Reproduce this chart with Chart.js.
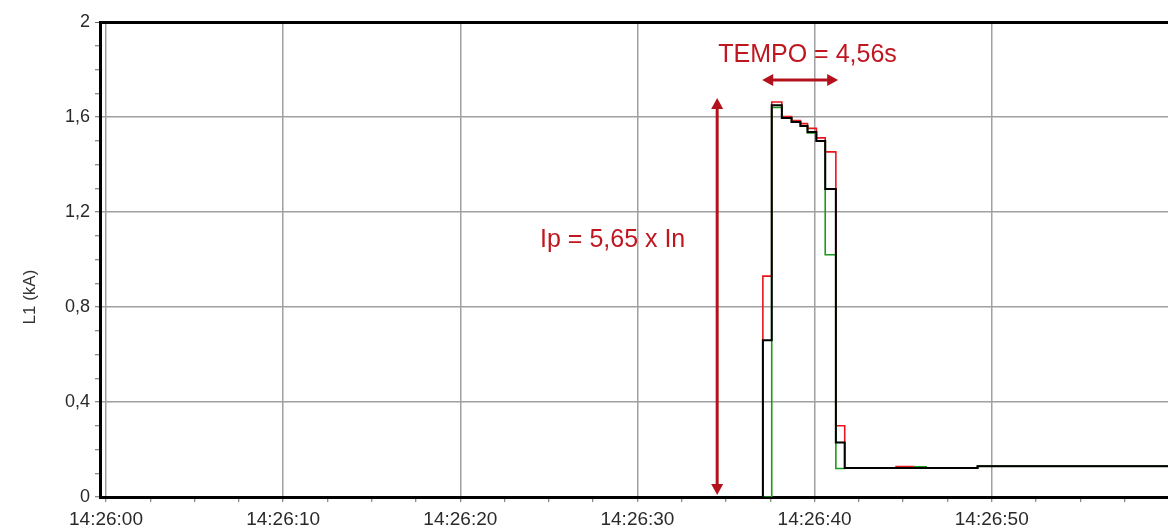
<!DOCTYPE html>
<html>
<head>
<meta charset="utf-8">
<script src="https://cdn.jsdelivr.net/npm/chart.js@4.4.1/dist/chart.umd.min.js"></script>
<style>
  html, body { margin: 0; padding: 0; background: #fff; }
  #wrap { width: 1168px; height: 530px; position: relative; }
</style>
</head>
<body>
<div id="wrap"><canvas id="l1Chart"></canvas></div>
<script>
'use strict'
// seconds after 14:26:00, step changes
var times = [-0.34, 37.08, 37.58, 38.15, 38.7, 39.2, 39.6, 40.1, 40.6, 41.2, 41.7, 44.6, 45.6, 46.3, 49.2, 59.95];
var blackL1 = [0, 0.66, 1.65, 1.596, 1.579, 1.562, 1.537, 1.499, 1.297, 0.23, 0.122, 0.122, 0.122, 0.122, 0.13, 0.13];
var redL1   = [0, 0.93, 1.663, 1.602, 1.585, 1.572, 1.552, 1.512, 1.453, 0.30, 0.122, 0.128, 0.122, 0.122, 0.13, 0.13];
var greenL1 = [0, 0, 1.64, 1.596, 1.579, 1.562, 1.533, 1.499, 1.02, 0.12, 0.122, 0.122, 0.127, 0.122, 0.13, 0.13];

var xTickLabels = ['14:26:00', '14:26:10', '14:26:20', '14:26:30', '14:26:40', '14:26:50'];
var yTickLabels = ['0', '0,4', '0,8', '1,2', '1,6', '2'];

// annotations
var tempoText = 'TEMPO = 4,56s';
var ipText = 'Ip = 5,65 x In';
var yTitle = 'L1 (kA)';

var font = "'Liberation Sans', Arial, sans-serif";
var annColor = '#b3121c';

function points(values) {
    return times.map(function(t, i) { return { x: t, y: values[i] }; });
}
function isMajorX(v) { return Math.abs(v / 10 - Math.round(v / 10)) < 1e-6 && v >= 0; }
function isMinorX(v) { return Math.abs(v / 2.5 - Math.round(v / 2.5)) < 1e-6; }
function isMajorY(v) { return Math.abs(v / 0.4 - Math.round(v / 0.4)) < 1e-6; }

function arrow(ctx, x1, y1, x2, y2) {
    var ang = Math.atan2(y2 - y1, x2 - x1), len = 11, half = 6;
    ctx.beginPath();
    ctx.moveTo(x1 + Math.cos(ang) * 6, y1 + Math.sin(ang) * 6);
    ctx.lineTo(x2 - Math.cos(ang) * 6, y2 - Math.sin(ang) * 6);
    ctx.stroke();
    [[x1, y1, ang + Math.PI], [x2, y2, ang]].forEach(function(h) {
        var a = h[2];
        ctx.beginPath();
        ctx.moveTo(h[0], h[1]);
        ctx.lineTo(h[0] - Math.cos(a) * len - Math.sin(a) * half, h[1] - Math.sin(a) * len + Math.cos(a) * half);
        ctx.lineTo(h[0] - Math.cos(a) * len + Math.sin(a) * half, h[1] - Math.sin(a) * len - Math.cos(a) * half);
        ctx.closePath();
        ctx.fill();
    });
}

var annotationPlugin = {
    id: 'annotations',
    afterDatasetsDraw: function(chart) {
        var ctx = chart.ctx, xs = chart.scales.x, ys = chart.scales.y;
        ctx.save();
        ctx.strokeStyle = annColor;
        ctx.fillStyle = annColor;
        ctx.lineWidth = 3;
        arrow(ctx, xs.getPixelForValue(37.04), ys.getPixelForValue(1.756),
                   xs.getPixelForValue(41.33), ys.getPixelForValue(1.756));
        arrow(ctx, xs.getPixelForValue(34.5), ys.getPixelForValue(1.68),
                   xs.getPixelForValue(34.5), ys.getPixelForValue(0.008));
        ctx.font = '25px ' + font;
        ctx.textAlign = 'center';
        ctx.textBaseline = 'middle';
        ctx.fillStyle = '#c0161f';
        ctx.fillText(tempoText, xs.getPixelForValue(39.6), ys.getPixelForValue(1.862));
        ctx.fillText(ipText, xs.getPixelForValue(28.6), ys.getPixelForValue(1.083));
        // y axis title, placed a bit below the middle like the original
        ctx.translate(30, ys.getPixelForValue(0.842));
        ctx.rotate(-Math.PI / 2);
        ctx.font = '17px ' + font;
        ctx.fillStyle = '#333';
        ctx.fillText(yTitle, 0, 0);
        ctx.restore();
    }
};

var ctx1 = document.getElementById('l1Chart');
var l1Chart = new Chart(ctx1, {
    type: 'line',
    data: {
        datasets: [
            { data: points(blackL1), borderColor: '#000', borderWidth: 2, stepped: 'before', pointRadius: 0, fill: false },
            { data: points(greenL1), borderColor: '#1a9a1a', borderWidth: 1.6, stepped: 'before', pointRadius: 0, fill: false },
            { data: points(redL1), borderColor: '#e8161c', borderWidth: 1.6, stepped: 'before', pointRadius: 0, fill: false }
        ]
    },
    options: {
        responsive: true,
        maintainAspectRatio: false,
        animation: false,
        layout: { padding: { top: 22, right: 0, left: 0, bottom: 0 } },
        plugins: { legend: { display: false }, tooltip: { enabled: false } },
        scales: {
            x: {
                type: 'linear',
                min: -0.34,
                max: 59.95,
                afterFit: function(scale) { scale.height = 33; },
                border: { color: '#000', width: 3 },
                grid: {
                    color: function(c) { return c.tick && isMajorX(c.tick.value) ? '#a0a0a0' : 'rgba(0,0,0,0)'; },
                    lineWidth: 1.5,
                    tickColor: function(c) { return c.tick && isMinorX(c.tick.value) ? '#666' : 'rgba(0,0,0,0)'; },
                    tickLength: 5,
                    tickWidth: 1
                },
                ticks: {
                    stepSize: 2.5,
                    includeBounds: false,
                    autoSkip: false,
                    maxRotation: 0,
                    padding: 6,
                    color: '#2a2a2a',
                    font: { family: font, size: 19 },
                    callback: function(v) { return isMajorX(v) ? xTickLabels[Math.round(v / 10)] : ''; }
                }
            },
            y: {
                min: 0,
                max: 2,
                afterFit: function(scale) { scale.width = 100; },
                border: { color: '#000', width: 3 },
                grid: {
                    color: function(c) {
                        if (!c.tick) return 'rgba(0,0,0,0)';
                        if (Math.abs(c.tick.value - 2) < 1e-6) return '#000';
                        return isMajorY(c.tick.value) ? '#a0a0a0' : 'rgba(0,0,0,0)';
                    },
                    lineWidth: function(c) { return c.tick && Math.abs(c.tick.value - 2) < 1e-6 ? 3 : 1.5; },
                    tickColor: '#666',
                    tickLength: 5,
                    tickWidth: 1
                },
                ticks: {
                    stepSize: 0.1,
                    autoSkip: false,
                    padding: 5,
                    color: '#2a2a2a',
                    font: { family: font, size: 18 },
                    callback: function(v) { return isMajorY(v) ? yTickLabels[Math.round(v / 0.4)] : ''; }
                }
            }
        }
    },
    plugins: [annotationPlugin]
});
</script>
</body>
</html>
